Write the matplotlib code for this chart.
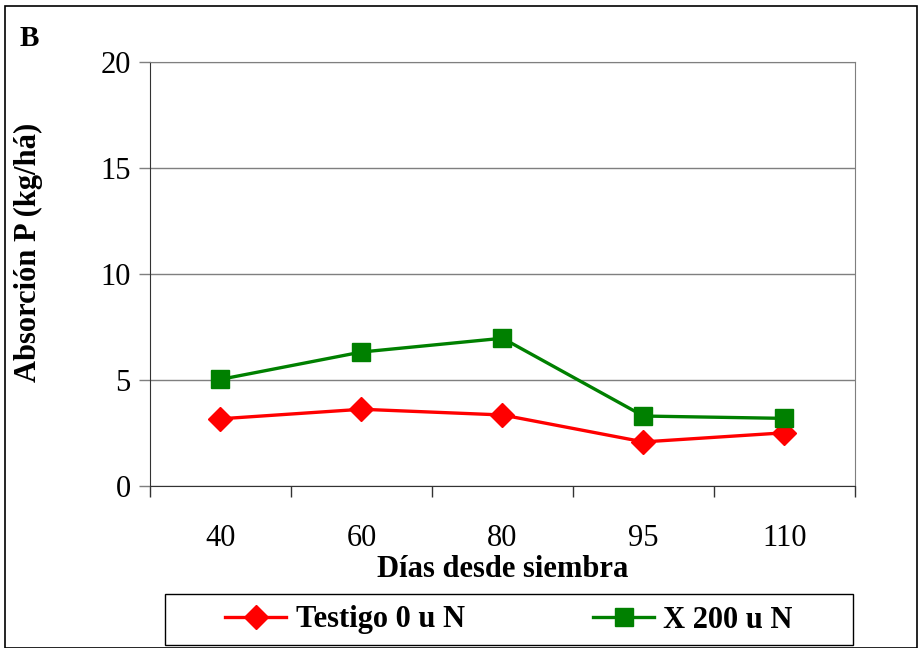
import matplotlib.pyplot as plt
from matplotlib.patches import Rectangle

dias = ["40", "60", "80", "95", "110"]
testigo = [3.17, 3.62, 3.35, 2.08, 2.51]
x200 = [5.03, 6.32, 6.97, 3.30, 3.19]

plt.rcParams['font.family'] = ['Liberation Serif', 'DejaVu Serif']

W, H = 920, 648
fig = plt.figure(figsize=(W / 100, H / 100), dpi=100)
ax = fig.add_axes([150 / W, 1 - 486 / H, (855 - 150) / W, (486 - 62) / H])

pos = list(range(len(dias)))
ax.plot(pos, testigo, color='#ff0000', lw=2.4, marker='D', markersize=12,
        label='Testigo 0 u N')
ax.plot(pos, x200, color='#008000', lw=2.4, marker='s', markersize=13,
        label='X 200 u N')

ax.set_xlim(-0.5, len(dias) - 0.5)
ax.set_ylim(0, 20)
ax.set_yticks([0, 5, 10, 15, 20])
ax.yaxis.grid(True, color='#7f7f7f', lw=1)
ax.set_axisbelow(True)
ax.tick_params(axis='y', length=8, width=1, color='#7f7f7f', labelsize=22, pad=6)

ax.set_xticks(pos)
ax.set_xticklabels(dias)
ax.set_xticks([p - 0.5 for p in range(len(dias) + 1)], minor=True)
ax.tick_params(axis='x', which='major', length=0, labelsize=22, pad=27)
ax.tick_params(axis='x', which='minor', length=8, width=1, color='#333333')

for s in ['top', 'right']:
    ax.spines[s].set_color('#7f7f7f')
ax.spines['left'].set_color('#333333')
ax.spines['bottom'].set_color('#333333')

ax.set_xlabel('Días desde siembra', fontsize=22, fontweight='bold')
ax.xaxis.set_label_coords(0.5, -0.162)
ax.set_ylabel('Absorción P (kg/há)', fontsize=22, fontweight='bold')
ax.yaxis.set_label_coords(-0.152, 0.55)

fig.text(20 / W, 1 - 38 / H, 'B', fontsize=21, fontweight='bold', va='center', ha='left')

# outer border
fig.patches.append(Rectangle((5 / W, 0), (917 - 5) / W, 1 - 6 / H, transform=fig.transFigure,
                             fill=False, edgecolor='black', lw=1.2))
# legend box
fig.patches.append(Rectangle((165 / W, 1 - 645 / H), (853 - 165) / W, (645 - 594) / H,
                             transform=fig.transFigure, fill=False, edgecolor='black', lw=1))
leg = fig.legend(loc='center', bbox_to_anchor=((165 + 853) / 2 / W, 1 - 620 / H), ncol=2,
                 frameon=False, prop={'size': 22, 'weight': 'bold'},
                 handlelength=2.0, columnspacing=4.2, handletextpad=0.3)

fig.savefig('out.png', dpi=100)
